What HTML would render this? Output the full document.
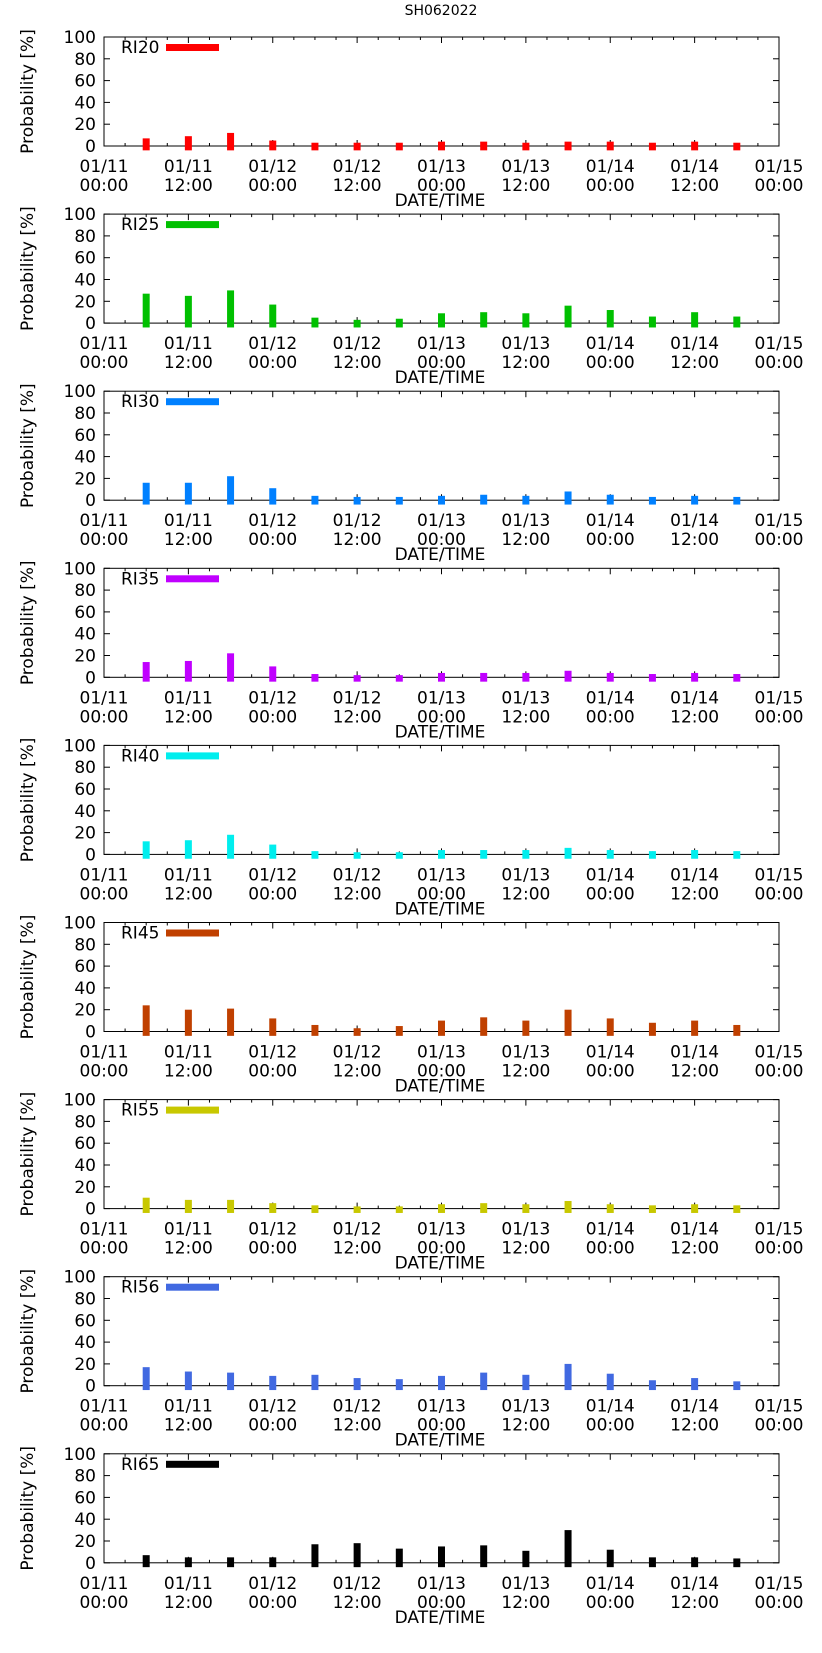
<!DOCTYPE html>
<html><head><meta charset="utf-8"><style>
html,body{margin:0;padding:0;background:#fff;width:822px;height:1653px;overflow:hidden}
svg text{font-family:"DejaVu Sans","Liberation Sans",sans-serif;fill:#000}
</style></head><body>
<svg id="c" width="822" height="1653" viewBox="0 0 822 1653" xmlns="http://www.w3.org/2000/svg">
<text x="441" y="15" font-size="14" text-anchor="middle">SH062022</text>
</svg>
<script>
const panelNames=["RI20","RI25","RI30","RI35","RI40","RI45","RI55","RI56","RI65"];
const panelColors=["#ff0000","#00c000","#0080ff","#c000ff","#00eeee","#c04000","#c8c800","#4169e1","#000000"];
const barHours=[6,12,18,24,30,36,42,48,54,60,66,72,78,84,90];
const ri20=[7,9,12,5,3,3,3,4,4,3,4,4,3,4,3];
const ri25=[27,25,30,17,5,3,4,9,10,9,16,12,6,10,6];
const ri30=[16,16,22,11,4,3,3,4,5,4,8,5,3,4,3];
const ri35=[14,15,22,10,3,2,2,4,4,4,6,4,3,4,3];
const ri40=[12,13,18,9,3,2,2,4,4,4,6,4,3,4,3];
const ri45=[24,20,21,12,6,3,5,10,13,10,20,12,8,10,6];
const ri55=[10,8,8,5,3,2,2,4,5,4,7,4,3,4,3];
const ri56=[17,13,12,9,10,7,6,9,12,10,20,11,5,7,4];
const ri65=[7,5,5,5,17,18,13,15,16,11,30,12,5,5,4];
const seriesValues=[ri20,ri25,ri30,ri35,ri40,ri45,ri55,ri56,ri65];
const yTicks=[0,20,40,60,80,100];
const xTickDates=["01/11","01/11","01/12","01/12","01/13","01/13","01/14","01/14","01/15"];
const xTickTimes=["00:00","12:00","00:00","12:00","00:00","12:00","00:00","12:00","00:00"];

const NS="http://www.w3.org/2000/svg";
const svg=document.getElementById('c');
const L=104,R=779,PH=109,STEP=177.1,TOP0=37,HMAX=96;
function mk(t,a,p){const e=document.createElementNS(NS,t);for(const k in a)e.setAttribute(k,a[k]);(p||svg).appendChild(e);return e;}
const xs=h=>L+(R-L)*h/HMAX;
panelNames.forEach((nm,i)=>{
  const top=TOP0+i*STEP, bot=top+PH;
  const ys=v=>bot-PH*v/100;
  const g=mk('g',{});
  
  
  const fr=mk('rect',{x:L,y:top,width:R-L,height:PH,fill:'none',stroke:'#000','stroke-width':1},g);
  
  
  yTicks.forEach(v=>{
    const y=ys(v);
    mk('line',{x1:L,x2:L+6,y1:y,y2:y,stroke:'#000'},g);
    mk('line',{x1:R,x2:R-6,y1:y,y2:y,stroke:'#000'},g);
    const t=mk('text',{x:L-8,y:y+6,'font-size':17,'text-anchor':'end'},g);
    t.textContent=v;
    
    
  });
  for(let h=0;h<=HMAX;h+=3){
    const x=xs(h),len=h%12===0?6:3;
    mk('line',{x1:x,x2:x,y1:bot,y2:bot-len,stroke:'#000'},g);
    mk('line',{x1:x,x2:x,y1:top,y2:top+len,stroke:'#000'},g);
  }
  xTickDates.forEach((d,k)=>{
    const x=xs(k*12);
    const t1=mk('text',{x:x,y:bot+26,'font-size':17,'text-anchor':'middle'},g);
    t1.textContent=d;
    
    
    const t2=mk('text',{x:x,y:bot+45,'font-size':17,'text-anchor':'middle'},g);
    t2.textContent=xTickTimes[k];
    
    
  });
  const xt=mk('text',{x:440,y:bot+60,'font-size':17,'text-anchor':'middle'},g);
  xt.textContent='DATE/TIME';
  
  
  const yt=mk('text',{x:0,y:0,'font-size':17,'text-anchor':'middle',transform:`translate(33,${top+PH/2}) rotate(-90)`},g);
  yt.textContent='Probability [%]';
  
  
  seriesValues[i].forEach((v,k)=>{
    const x=xs(barHours[k]);
    const b=mk('rect',{x:x-3.5,y:ys(v),width:7,height:ys(-4)-ys(v),fill:panelColors[i]},g);
    
    
  });
  const lt=mk('text',{x:121,y:top+16,'font-size':17},g);
  lt.textContent=nm;
  
  
  const ls=mk('rect',{x:166,y:top+7,width:53,height:7,fill:panelColors[i]},g);
  
  
});
</script>
</body></html>
